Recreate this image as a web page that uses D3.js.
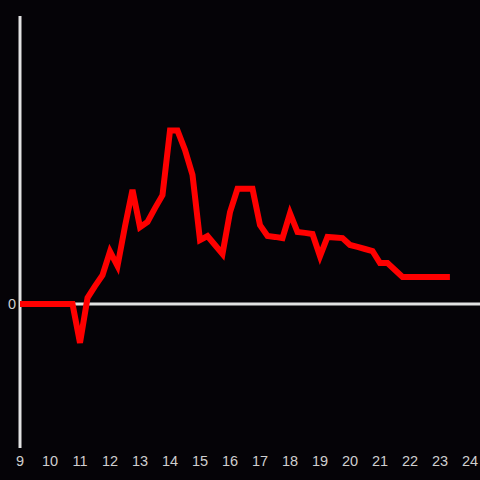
<!DOCTYPE html>
<html>
<head>
<meta charset="utf-8">
<script src="https://cdn.jsdelivr.net/npm/d3@7"></script>
<style>
  html, body { margin: 0; padding: 0; background: #050307; }
  svg { display: block; }
</style>
</head>
<body>
<div id="chart-area"></div>
<script>
// datos (hora, valor)
const hours = [9, 10.75, 11, 11.25, 11.5, 11.75, 12, 12.25, 12.5, 12.75, 13, 13.25, 13.5, 13.75,
  14, 14.25, 14.5, 14.75, 15, 15.25, 15.5, 15.75, 16, 16.25, 16.5, 16.75, 17, 17.25, 17.5, 17.75,
  18, 18.25, 18.5, 18.75, 19, 19.25, 19.5, 19.75, 20, 20.25, 20.5, 20.75, 21, 21.25, 21.5, 21.75, 23.33];
const values = [0, 0, -13.5, 2.1, 6.2, 10, 18.2, 13.2, 27, 39.6, 26.7, 28.5, 33.3, 37.8,
  60.2, 60.2, 53.5, 44.8, 22.2, 23.6, 20.5, 17.4, 31.9, 40, 40, 40, 27.4, 23.6, 23.3, 22.9,
  31.5, 25, 24.7, 24.3, 16.6, 23.3, 23.1, 22.9, 20.5, 19.8, 19.1, 18.4, 14.2, 14.2, 11.8, 9.4, 9.4];
const xTicks = [9, 10, 11, 12, 13, 14, 15, 16, 17, 18, 19, 20, 21, 22, 23, 24];
const yTicks = [0];

const width = 480;
const height = 480;

const data = hours.map((h, i) => ({ h: h, v: values[i] }));

const svg = d3.select("#chart-area")
  .append("svg")
  .attr("width", width)
  .attr("height", height);

svg.append("rect")
  .attr("width", width)
  .attr("height", height)
  .attr("fill", "#050307");

const x = d3.scaleLinear().domain([9, 24]).range([20, 470]);
const y = d3.scaleLinear().domain([-50, 100]).range([448, 16]);

const axisColor = "#e2e2e2";
const textColor = "#cfcfcf";

// linea del cero
svg.append("line")
  .attr("x1", x(9))
  .attr("x2", width)
  .attr("y1", y(0))
  .attr("y2", y(0))
  .attr("stroke", axisColor)
  .attr("stroke-width", 3);

// eje y
svg.append("line")
  .attr("x1", x(9))
  .attr("x2", x(9))
  .attr("y1", y(100))
  .attr("y2", y(-50))
  .attr("stroke", axisColor)
  .attr("stroke-width", 3);

// etiquetas eje x
svg.selectAll(".xlab")
  .data(xTicks)
  .enter()
  .append("text")
  .attr("class", "xlab")
  .attr("x", d => x(d))
  .attr("y", 466)
  .attr("text-anchor", "middle")
  .attr("fill", textColor)
  .attr("font-family", "Liberation Sans, Arial, sans-serif")
  .attr("font-size", 14.5)
  .text(d => d);

// etiquetas eje y
svg.selectAll(".ylab")
  .data(yTicks)
  .enter()
  .append("text")
  .attr("class", "ylab")
  .attr("x", 16)
  .attr("y", d => y(d) + 5)
  .attr("text-anchor", "end")
  .attr("fill", textColor)
  .attr("font-family", "Liberation Sans, Arial, sans-serif")
  .attr("font-size", 14.5)
  .text(d => d);

const line = d3.line()
  .x(d => x(d.h))
  .y(d => y(d.v));

svg.append("path")
  .datum(data)
  .attr("d", line)
  .attr("fill", "none")
  .attr("stroke", "#ff0000")
  .attr("stroke-width", 6)
  .attr("stroke-linejoin", "miter");
</script>
</body>
</html>
